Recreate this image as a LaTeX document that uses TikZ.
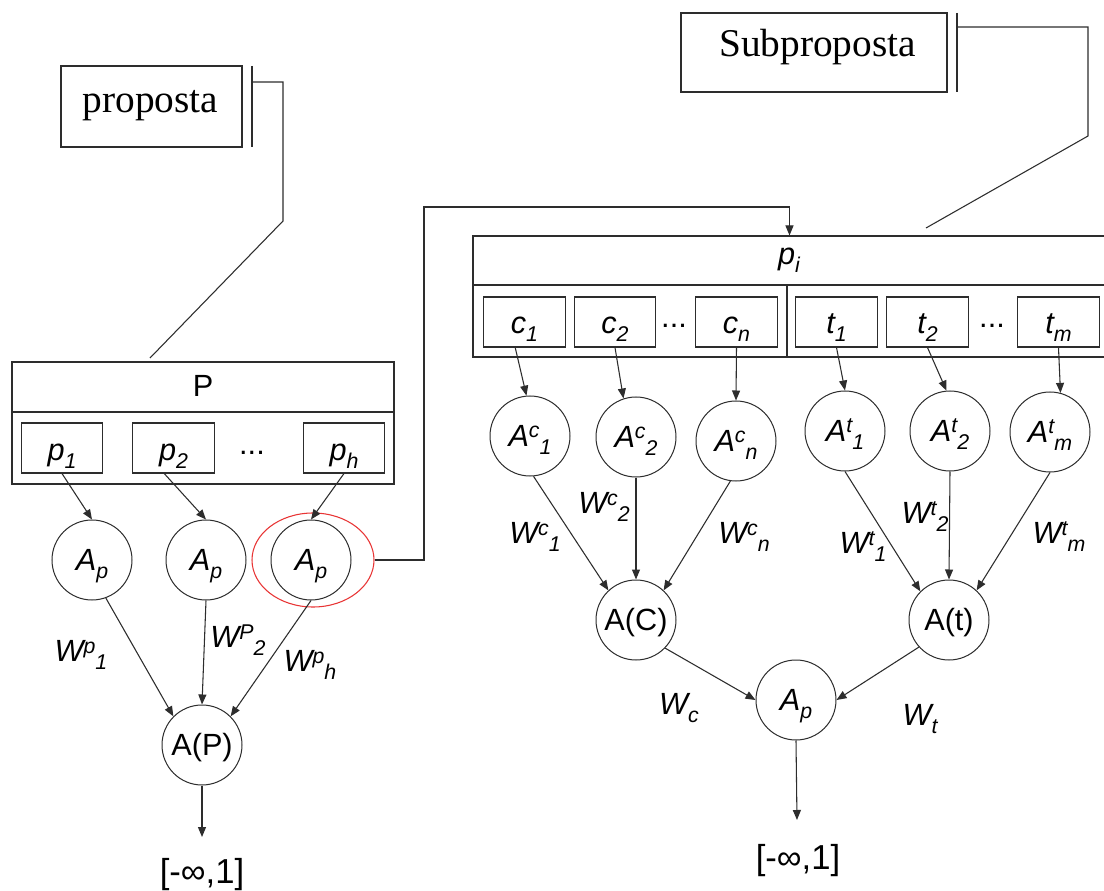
\documentclass[tikz,border=0pt]{standalone}
\usepackage{fontspec}
\setmainfont{Liberation Sans}
\newfontfamily\tmsfont{Liberation Serif}
\usetikzlibrary{arrows.meta,shapes.geometric}

\definecolor{hlred}{RGB}{232,52,52}
\definecolor{inkgray}{RGB}{45,45,45}

% type sizes
\newcommand{\bodysz}{\fontsize{23}{26}\selectfont}
\newcommand{\scrsz}{\fontsize{16}{18}\selectfont}
% raised and lowered indices, written one after the other
\newcommand{\hisup}[1]{\raisebox{6pt}{\scrsz #1}}
\newcommand{\losub}[1]{\raisebox{-6pt}{\scrsz #1}}

\begin{document}
\begin{tikzpicture}[x=0.75pt,y=-0.75pt,
  ln/.style={draw=inkgray, line width=0.8pt},
  arr/.style={ln, -{Triangle[length=7.5pt,width=6pt]}},
  circ/.style={circle, draw=inkgray, line width=0.75pt, minimum size=60pt,
    inner sep=0pt, font=\bodysz, text height=15pt, text depth=0pt},
  cell/.style={rectangle, draw=inkgray, line width=0.8pt, minimum width=61pt,
    minimum height=37.5pt, inner sep=0pt, font=\bodysz\itshape,
    text height=18pt, text depth=0pt},
  framebox/.style={rectangle, draw=inkgray, line width=0.8pt, inner sep=0pt},
  titlebox/.style={rectangle, draw=inkgray, line width=0.8pt, inner sep=0pt},
  titletext/.style={font=\tmsfont\fontsize{29.5}{32}\selectfont, anchor=base, inner sep=0pt},
  wlab/.style={font=\fontsize{23}{26}\selectfont\itshape, inner sep=0pt},
  dotlab/.style={font=\bodysz, inner sep=0pt},
  rangelab/.style={font=\fontsize{26}{28}\selectfont, inner sep=0pt, anchor=base}]

\useasboundingbox (0,0) rectangle (1104,891);
\fill[white] (0,0) rectangle (1104,891);

% ---------- left part: proposal P ----------
\node[titlebox, minimum width=135.75pt, minimum height=60.75pt] (prop) at (151.5,106.5) {};
\node[titletext] (proptxt) at (150.5,113) {proposta};
\draw[ln] (252,66) -- (252,147);
\coordinate (propk) at (252,82);
\coordinate (propb) at (283,221);
\coordinate (prope) at (150,358);
\draw[ln] (propk) -| (propb) -- (prope);

\node[framebox, minimum width=286.5pt, minimum height=91.5pt] (Pbox) at (203,423) {};
\draw[draw=inkgray, line width=1.4pt] (12,412) -- (394,412);
\node[font=\fontsize{23}{26}\selectfont, anchor=base, inner sep=0pt] (Plab) at (203,397) {P};

\node[cell] (p1) at (62,448) {p\losub{1}};
\node[cell] (p2) at (173.5,448) {p\losub{2}};
\node[dotlab] (pd) at (252,453) {...};
\node[cell] (ph) at (344,448) {p\losub{h}};

\node[circ] (Ap1) at (92,560) {\itshape A\losub{p}};
\node[circ] (Ap2) at (206,560) {\itshape A\losub{p}};
\node[circ] (Ap3) at (311,560) {\itshape A\losub{p}};
\node[ellipse, draw=hlred, line width=0.8pt, minimum width=91.5pt, minimum height=70.5pt, inner sep=0pt] (hl) at (313,560) {};

\draw[arr] (p1.south) -- (Ap1.north);
\draw[arr] (p2.250) -- (Ap2.north);
\draw[arr] (ph.south) -- (Ap3.north);

\node[circ] (AP) at (202,745) {A(P)};
\draw[arr] (Ap1.290) -- (AP.135);
\draw[arr] (Ap2.south) -- (AP.north);
\draw[arr] (Ap3.south) -- (AP.45);

\node[wlab] (wp1) at (81,655) {W\hisup{p}\losub{1}};
\node[wlab] (wp2) at (238,640) {W\hisup{P}\losub{2}};
\node[wlab] (wph) at (310,665) {W\hisup{p}\losub{h}};

\coordinate (outL) at (202,837);
\draw[arr] (AP.south) -- (outL);
\node[rangelab] (rngL) at (202,883) {[-∞,1]};

% ---------- link to the expanded sub-proposal ----------
\node[framebox, minimum width=474.75pt, minimum height=90.75pt] (pibox) at (789.5,296.5) {};
\coordinate (linkk) at (424,207);
\draw[arr] (hl.east) -| (linkk) -| (pibox.north);

% ---------- right part: sub-proposal p_i ----------
\node[titlebox, minimum width=199.5pt, minimum height=59.25pt] (sub) at (814,52.5) {};
\node[titletext] (subtxt) at (817.5,57) {Subproposta};
\draw[ln] (957,13) -- (957,92);
\coordinate (subk) at (957,27);
\coordinate (subb) at (1088,136);
\coordinate (sube) at (926,228);
\draw[ln] (subk) -| (subb) -- (sube);

\draw[draw=inkgray, line width=1.4pt] (473,285) -- (1106,285);
\draw[ln] (787,285) -- (787,357);
\node[font=\bodysz\itshape, anchor=base, inner sep=0pt] (pilab) at (789,265) {p\losub{i}};

\node[cell] (c1) at (524.5,322) {c\losub{1}};
\node[cell] (c2) at (615,322) {c\losub{2}};
\node[dotlab] (cd) at (674,326) {...};
\node[cell] (cn) at (736.5,322) {c\losub{n}};
\node[cell] (t1) at (836.5,322) {t\losub{1}};
\node[cell] (t2) at (927.5,322) {t\losub{2}};
\node[dotlab] (td) at (992,326) {...};
\node[cell] (tm) at (1058.5,322) {t\losub{m}};

\node[circ] (Ac1) at (530,436) {\itshape A\hisup{c}\losub{1}};
\node[circ] (Ac2) at (636,437) {\itshape A\hisup{c}\losub{2}};
\node[circ] (Acn) at (736,441) {\itshape A\hisup{c}\losub{n}};
\node[circ] (At1) at (845,431) {\itshape A\hisup{t}\losub{1}};
\node[circ] (At2) at (950,431) {\itshape A\hisup{t}\losub{2}};
\node[circ] (Atm) at (1050,432) {\itshape A\hisup{t}\losub{m}};

\draw[arr] (c1.250) -- (Ac1.95);
\draw[arr] (c2.south) -- (Ac2.108);
\draw[arr] (cn.south) -- (Acn.north);
\draw[arr] (t1.south) -- (At1.north);
\draw[arr] (t2.south) -- (At2.95);
\draw[arr] (tm.south) -- (Atm.75);

\node[circ] (AC) at (636,620) {A(C)};
\node[circ] (AT) at (949,620) {A(t)};

\draw[arr] (Ac1.275) -- (AC.133);
\draw[arr] (Ac2.south) -- (AC.north);
\draw[arr] (Acn.262) -- (AC.47);
\draw[arr] (At1.south) -- (AT.135);
\draw[arr] (At2.south) -- (AT.north);
\draw[arr] (Atm.south) -- (AT.47);

\node[wlab] (wc1) at (535,537) {W\hisup{c}\losub{1}};
\node[wlab] (wc2) at (604,507) {W\hisup{c}\losub{2}};
\node[wlab] (wcn) at (744,537) {W\hisup{c}\losub{n}};
\node[wlab] (wt1) at (863,547) {W\hisup{t}\losub{1}};
\node[wlab] (wt2) at (925,517) {W\hisup{t}\losub{2}};
\node[wlab] (wtm) at (1059,537) {W\hisup{t}\losub{m}};

\node[circ] (Apf) at (796,700) {\itshape A\losub{p}};
\draw[arr] (AC.316) -- (Apf.west);
\draw[arr] (AT.222) -- (Apf.east);

\node[wlab] (wc) at (679,708) {W\losub{c}};
\node[wlab] (wt) at (920,719) {W\losub{t}};

\coordinate (outR) at (797,820);
\draw[arr] (Apf.south) -- (outR);
\node[rangelab] (rngR) at (798,869) {[-∞,1]};

\end{tikzpicture}
\end{document}
